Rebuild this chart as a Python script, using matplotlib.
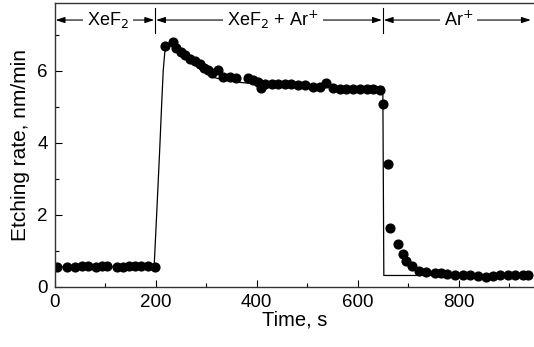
import numpy as np
import matplotlib
matplotlib.use('Agg')
import matplotlib.pyplot as plt
from matplotlib.ticker import MultipleLocator

plt.rcParams['font.family'] = ['Liberation Sans', 'DejaVu Sans']

# measured points
t_data = [5, 24, 41, 54, 66, 81, 93, 104, 124, 136, 148, 160, 171, 185, 199,
          218, 235, 241, 250, 259, 268, 278, 288, 296, 304, 312, 324, 334, 347,
          360, 383, 393, 403, 409, 416, 430, 443, 456, 469, 482, 496, 512, 525,
          538, 552, 565, 578, 591, 605, 618, 631, 644,
          651, 660, 664, 681, 689, 696, 707, 722, 735, 753, 766, 777, 793, 809,
          822, 839, 855, 869, 882, 898, 911, 927, 937]
rate_data = [0.55, 0.55, 0.55, 0.56, 0.56, 0.55, 0.56, 0.57, 0.55, 0.55, 0.56, 0.56, 0.56, 0.57, 0.55,
             6.69, 6.81, 6.62, 6.53, 6.44, 6.34, 6.27, 6.18, 6.09, 6.02, 5.93, 6.02, 5.83, 5.82,
             5.79, 5.79, 5.74, 5.69, 5.53, 5.63, 5.63, 5.62, 5.62, 5.62, 5.60, 5.60, 5.54, 5.56,
             5.65, 5.51, 5.48, 5.48, 5.48, 5.48, 5.48, 5.48, 5.46,
             5.08, 3.42, 1.62, 1.19, 0.91, 0.71, 0.58, 0.44, 0.41, 0.39, 0.37, 0.35, 0.32, 0.32,
             0.32, 0.29, 0.28, 0.30, 0.31, 0.32, 0.33, 0.33, 0.31]

# model curve
t_fit = [0, 197, 203, 208, 212, 215, 218, 222, 228, 240, 255, 270, 290, 311, 330,
         357, 380, 397, 430, 470, 520, 580, 650, 652, 945]
rate_fit = [0.55, 0.55, 2.3, 3.8, 5.1, 6.0, 6.5, 6.7, 6.72, 6.6, 6.42, 6.24, 6.02, 5.83, 5.76,
            5.69, 5.66, 5.63, 5.60, 5.58, 5.56, 5.56, 5.56, 0.31, 0.31]

boundaries = [0, 199, 650, 945]
phase_labels = ['XeF$_2$', 'XeF$_2$ + Ar$^{+}$', 'Ar$^{+}$']
label_x = [106, 433, 800]

fig = plt.figure(figsize=(5.34, 3.47), dpi=100)
ax = fig.add_axes([0.1024, 0.174, 0.9, 0.817])

ax.plot(t_fit, rate_fit, color='black', lw=0.9)
ax.plot(t_data, rate_data, 'o', color='black', ms=6.3)

y_arrow = 7.41
for i in range(3):
    x0, x1 = boundaries[i], boundaries[i + 1]
    ax.annotate('', xy=(x0 + 2, y_arrow), xytext=(label_x[i], y_arrow),
                arrowprops=dict(arrowstyle='-|>,head_length=0.6,head_width=0.2', color='black',
                                lw=0.8, mutation_scale=9, shrinkA=0, shrinkB=0))
    ax.annotate('', xy=(x1 - 2, y_arrow), xytext=(label_x[i], y_arrow),
                arrowprops=dict(arrowstyle='-|>,head_length=0.6,head_width=0.2', color='black',
                                lw=0.8, mutation_scale=9, shrinkA=0, shrinkB=0))
    ax.text(label_x[i], y_arrow, phase_labels[i], ha='center', va='center', fontsize=13,
            bbox=dict(facecolor='white', edgecolor='none', pad=3))
for b in boundaries[1:3]:
    ax.plot([b, b], [7.05, 7.75], color='black', lw=0.8)

ax.set_xlim(0, 952)
ax.set_ylim(0, 7.88)
ax.xaxis.set_major_locator(MultipleLocator(200))
ax.xaxis.set_minor_locator(MultipleLocator(100))
ax.yaxis.set_major_locator(MultipleLocator(2))
ax.yaxis.set_minor_locator(MultipleLocator(1))
ax.tick_params(which='both', direction='in', labelsize=13.5, top=False, right=False)
ax.tick_params(which='major', length=5, width=0.8, pad=5)
ax.tick_params(which='minor', length=3, width=0.8)
for s in ax.spines.values():
    s.set_linewidth(1.0)
    s.set_color('#333333')

ax.set_xlabel('Time, s', fontsize=14.5, labelpad=0)
ax.set_ylabel('Etching rate, nm/min', fontsize=15, labelpad=5)

fig.savefig('out.png', dpi=100)
